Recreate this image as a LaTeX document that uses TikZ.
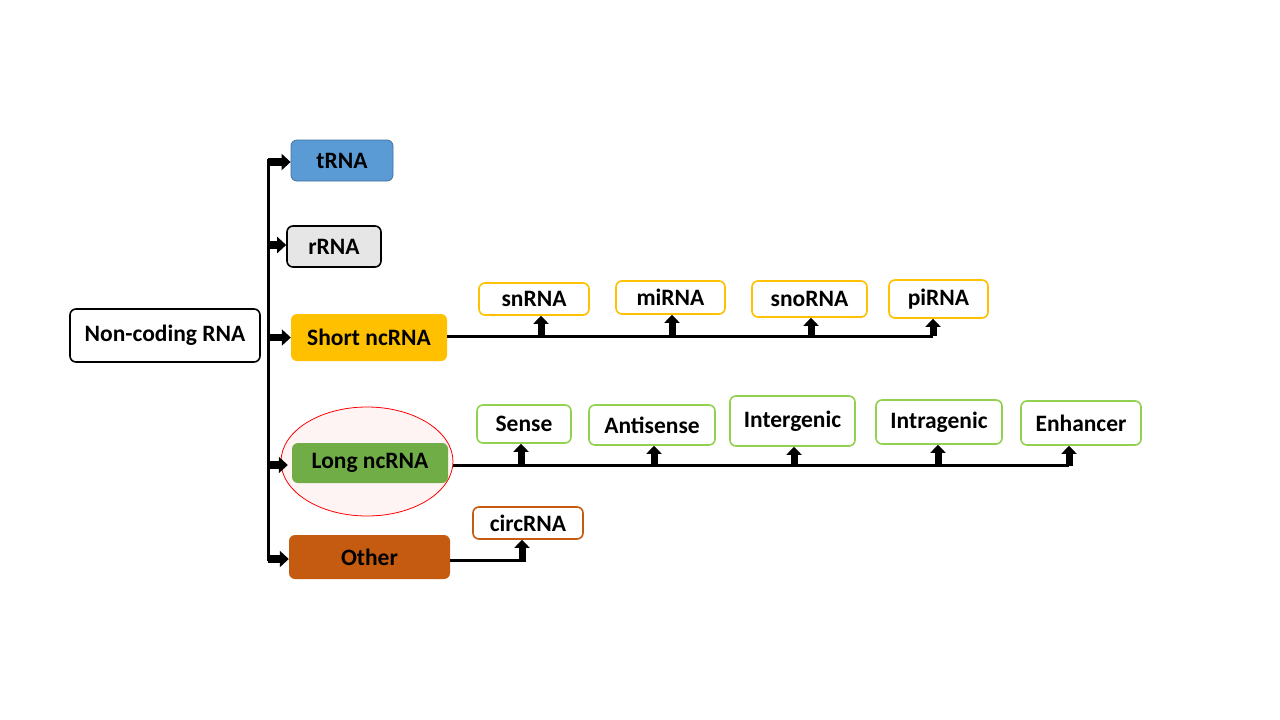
\documentclass[tikz,border=0pt]{standalone}
\usepackage{fontspec}
\setmainfont{Carlito}
\usetikzlibrary{arrows.meta,shapes.geometric}
\definecolor{tblue}{HTML}{5B9BD5}
\definecolor{tbluedk}{HTML}{41719C}
\definecolor{rgray}{HTML}{E7E6E6}
\definecolor{sorange}{HTML}{FFC000}
\definecolor{lgreen}{HTML}{70AD47}
\definecolor{lgreenlt}{HTML}{92D050}
\definecolor{obrown}{HTML}{C55A11}
\definecolor{pinkfill}{HTML}{FFF4F4}
\tikzset{
  box/.style={rectangle, rounded corners=6pt, align=center, inner sep=0pt,
    font=\fontsize{23.5}{28}\selectfont\bfseries, text=black},
  sub/.style={box, fill=white, line width=1.6pt},
  trunk/.style={line width=3pt, draw=black},
  harr/.style={line width=7.5pt, -{Triangle[length=9pt,width=16pt]}},
  uarr/.style={line width=7pt, -{Triangle[length=8pt,width=15pt]}},
}
\begin{document}
\begin{tikzpicture}[x=1pt,y=-1pt]
\useasboundingbox (0,0) rectangle (1280,720);
% ellipse highlight
\node[ellipse, draw=red, line width=0.8pt, fill=pinkfill, minimum width=172pt, minimum height=109pt] (ell) at (367,461.5) {};
% main nodes
\node[box, draw=black, line width=1.6pt, fill=white, minimum width=190pt, minimum height=53pt] (nc) at (165,335.5) {\raisebox{-2pt}{Non-coding RNA}};
\node[box, draw=tbluedk, line width=0.8pt, fill=tblue, minimum width=102pt, minimum height=41pt] (trna) at (342,160.5) {tRNA};
\node[box, draw=black, line width=1.6pt, fill=rgray, minimum width=94pt, minimum height=41pt] (rrna) at (334,246.5) {rRNA};
\node[box, fill=sorange, minimum width=156pt, minimum height=47pt] (short) at (369,337.5) {Short ncRNA};
\node[box, fill=lgreen, minimum width=156pt, minimum height=40pt] (long) at (370,463) {Long ncRNA};
\node[box, fill=obrown, minimum width=161pt, minimum height=44pt] (other) at (369.5,557) {Other};
% short sub nodes
\node[sub, draw=sorange, minimum width=110pt, minimum height=32pt] (snrna) at (534,299) {snRNA};
\node[sub, draw=sorange, minimum width=109pt, minimum height=33pt] (mirna) at (670.5,297.5) {miRNA};
\node[sub, draw=sorange, minimum width=115pt, minimum height=36pt] (snorna) at (809.5,299) {snoRNA};
\node[sub, draw=sorange, minimum width=99pt, minimum height=38pt] (pirna) at (938.5,299) {piRNA};
% long sub nodes
\node[sub, draw=lgreenlt, minimum width=94pt, minimum height=38pt] (sense) at (524,424) {Sense};
\node[sub, draw=lgreenlt, minimum width=126pt, minimum height=40pt] (anti) at (652,425) {Antisense};
\node[sub, draw=lgreenlt, minimum width=125pt, minimum height=50pt] (inter) at (792.5,421) {Intergenic};
\node[sub, draw=lgreenlt, minimum width=126pt, minimum height=44pt] (intra) at (939,422) {Intragenic};
\node[sub, draw=lgreenlt, minimum width=120pt, minimum height=44pt] (enh) at (1081,423) {Enhancer};
% other sub
\node[sub, draw=obrown, minimum width=110pt, minimum height=32pt] (circ) at (528,523) {circRNA};
% trunk
\coordinate (vtop) at (268,158.5);
\coordinate (vbot) at (268,561);
\draw[trunk] (vtop) -- (vbot);
\draw[harr] ([yshift=-1.5pt]trna.west -| vtop) -- ([yshift=-1.5pt]trna.west);
\draw[harr] ([yshift=1.5pt]rrna.west -| vtop) -- ([yshift=1.5pt]rrna.west);
\draw[harr] (short.west -| vtop) -- (short.west);
\draw[harr] ([yshift=-2pt]long.west -| vtop) -- ([xshift=-4pt,yshift=-2pt]long.west);
\draw[harr] ([yshift=-2pt]other.west -| vtop) -- ([yshift=-2pt]other.west);
% short branch
\coordinate (send) at (933,336);
\draw[trunk] (short.east |- send) -- (send);
\draw[uarr] ([xshift=7pt]snrna.south |- send) -- ([xshift=7pt]snrna.south);
\draw[uarr] ([xshift=1.5pt]mirna.south |- send) -- ([xshift=1.5pt]mirna.south);
\draw[uarr] ([xshift=1.5pt]snorna.south |- send) -- ([xshift=1.5pt]snorna.south);
\draw[uarr] ([xshift=-5.5pt]pirna.south |- send) -- ([xshift=-5.5pt]pirna.south);
% long branch
\coordinate (lend) at (1069,465.5);
\draw[trunk] (ell.east |- lend) -- (lend);
\draw[uarr] ([xshift=-3pt]sense.south |- lend) -- ([xshift=-3pt]sense.south);
\draw[uarr] ([xshift=2pt]anti.south |- lend) -- ([xshift=2pt]anti.south);
\draw[uarr] ([xshift=1.5pt]inter.south |- lend) -- ([xshift=1.5pt]inter.south);
\draw[uarr] ([xshift=-1pt]intra.south |- lend) -- ([xshift=-1pt]intra.south);
\draw[uarr] ([xshift=-12pt]enh.south |- lend) -- ([xshift=-12pt]enh.south);
% other branch
\coordinate (oc) at (522,560);
\draw[trunk] (other.east |- oc) -- (oc);
\draw[uarr] ([xshift=-6pt,yshift=-1.5pt]circ.south |- oc) -- ([xshift=-6pt]circ.south);
\end{tikzpicture}
\end{document}
